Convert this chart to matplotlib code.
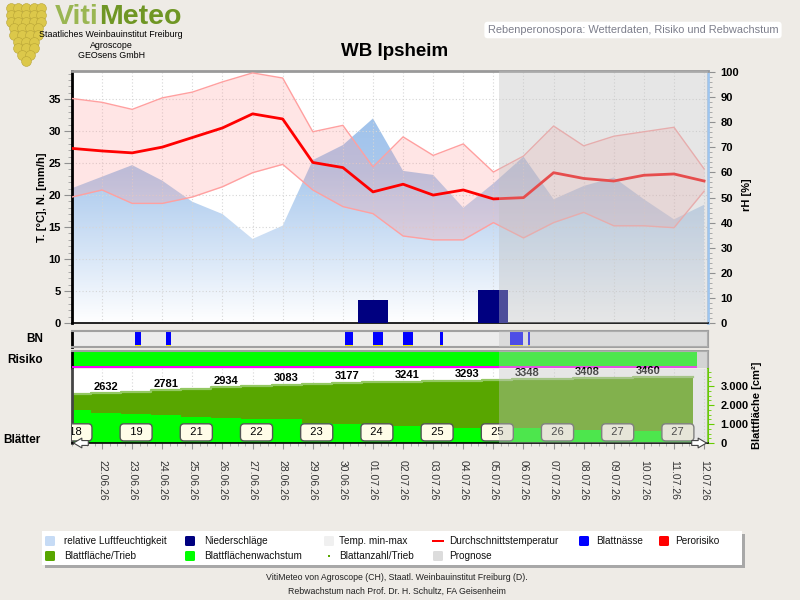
import matplotlib
matplotlib.use('Agg')
import matplotlib.pyplot as plt
import numpy as np
from matplotlib.colors import LinearSegmentedColormap
from matplotlib.patches import Rectangle, FancyBboxPatch
from matplotlib.ticker import MultipleLocator

plt.rcParams['font.family'] = ['Liberation Sans', 'DejaVu Sans']

# ---------------- data ----------------
dates = ['21.06.26', '22.06.26', '23.06.26', '24.06.26', '25.06.26', '26.06.26', '27.06.26',
         '28.06.26', '29.06.26', '30.06.26', '01.07.26', '02.07.26', '03.07.26', '04.07.26',
         '05.07.26', '06.07.26', '07.07.26', '08.07.26', '09.07.26', '10.07.26', '11.07.26',
         '12.07.26']
t_mean = [27.3, 26.9, 26.6, 27.5, 29.0, 30.5, 32.7, 31.9, 25.1, 24.3, 20.5, 21.7, 20.0, 20.8,
          19.4, 19.6, 23.5, 22.6, 22.2, 23.1, 23.3, 22.2]
t_max = [35.1, 34.5, 33.4, 35.2, 36.1, 37.7, 39.1, 38.3, 29.9, 30.9, 24.4, 29.1, 26.2, 28.0,
         23.6, 26.1, 30.8, 27.7, 29.2, 29.9, 30.6, 24.1]
t_min = [19.7, 20.8, 18.7, 18.7, 19.7, 21.3, 23.5, 24.8, 20.8, 18.2, 17.1, 13.6, 13.0, 13.0,
         15.7, 13.3, 15.7, 17.3, 15.2, 15.2, 14.9, 20.6]
rh = [53.7, 58.3, 62.9, 56.7, 48.3, 43.4, 33.5, 38.8, 64.9, 70.9, 81.5, 60.6, 59.0, 45.9,
      55.6, 66.3, 49.3, 54.6, 58.0, 49.3, 41.3, 47.1]
precip = [0, 0, 0, 0, 0, 0, 0, 0, 0, 0, 3.6, 0, 0, 0, 5.2, 0, 0, 0, 0, 0, 0, 0]

# leaf wetness periods (start in day index, length in days)
bn_start = [2.09, 3.12, 9.07, 9.99, 11.01, 12.23, 14.55, 15.16]
bn_len = [0.20, 0.17, 0.28, 0.35, 0.31, 0.10, 0.42, 0.05]

risk = [0] * 21  # 0 = low risk (green)
leaf_area = [2560, 2632, 2700, 2781, 2860, 2934, 3010, 3083, 3130, 3177, 3210, 3241, 3268,
             3293, 3320, 3348, 3378, 3408, 3434, 3460, 3485]
leaf_growth = [1737, 1596, 1509, 1474, 1384, 1332, 1263, 1245, 1035, 985, 947, 911, 842, 805,
               790, 772, 720, 684, 670, 650, 630]
leaf_count = [18, 19, 21, 22, 23, 24, 25, 25, 26, 27, 27]  # every second day
prog_start = 14.19

# ---------------- layout helpers ----------------
W, H = 800, 600
BG = '#eeebe6'
XMAX = 21.13
STEP_OFF = 0.13


def box(x0, y0, x1, y1):
    return [x0 / W, 1 - y1 / H, (x1 - x0) / W, (y1 - y0) / H]


def fx(x):
    return x / W


def fy(y):
    return 1 - y / H


fig = plt.figure(figsize=(8, 6), dpi=100, facecolor=BG)

x = np.arange(len(t_mean))

# ---------------- main panel ----------------
ax_rh = fig.add_axes(box(72, 71, 708, 323))
ax = fig.add_axes(box(72, 71, 708, 323), sharex=ax_rh)
ax.patch.set_visible(False)
ax_rh.set_facecolor('white')

poly = ax_rh.fill_between(x, 0, rh, facecolor='none', edgecolor='none')
grad = np.linspace(0, 1, 256).reshape(-1, 1)
cmap = LinearSegmentedColormap.from_list(
    'rh', [(0, '#ffffff'), (0.3, '#d3e3f6'), (0.6, '#aac9ed'), (1, '#98bdea')])
im = ax_rh.imshow(grad, extent=[0, XMAX, 0, 100.4], origin='lower', aspect='auto',
                  cmap=cmap, zorder=1)
im.set_clip_path(poly.get_paths()[0], ax_rh.transData)
ax_rh.set_ylim(0, 100.4)
ax_rh.yaxis.tick_right()
ax_rh.set_yticks(range(0, 101, 10), labels=[str(v) for v in range(0, 101, 10)],
                 fontweight='bold', fontsize=8)
ax_rh.yaxis.set_minor_locator(MultipleLocator(2))
ax_rh.tick_params(axis='y', which='major', length=5, color='#909090', pad=4)
ax_rh.tick_params(axis='y', which='minor', length=3, color='#a0a0a0')
ax_rh.tick_params(axis='x', which='both', bottom=False, labelbottom=False)
for s in ['left', 'top', 'bottom']:
    ax_rh.spines[s].set_visible(False)
ax_rh.spines['right'].set_color('#9ec5ef')
ax_rh.spines['right'].set_linewidth(2)

ax.fill_between(x, t_min, t_max, color='#ff9999', alpha=0.25, lw=0, zorder=2)
ax.plot(x, t_max, color='#ffa0a0', lw=1, zorder=3)
ax.plot(x, t_min, color='#ffa0a0', lw=1, zorder=3)
ax.bar(x, precip, width=1, color='#000080', zorder=4)
ax.plot(x, t_mean, color='#ff0000', lw=2, zorder=5)
ax.set_ylim(0, 39.4)
ax.set_yticks(range(0, 36, 5), labels=[str(v) for v in range(0, 36, 5)],
              fontweight='bold', fontsize=8)
ax.yaxis.set_minor_locator(MultipleLocator(1))
ax.tick_params(axis='y', which='major', length=6, color='#909090', pad=2)
ax.tick_params(axis='y', which='minor', length=3, color='#a0a0a0')
ax.tick_params(axis='x', which='both', bottom=False, labelbottom=False)
ax.set_axisbelow(True)
ax.grid(True, which='major', color='#d6d6d6', ls=(0, (1, 2)), lw=0.8)
ax.spines['right'].set_visible(False)
ax.spines['left'].set_color('black')
ax.spines['left'].set_linewidth(2)
ax.spines['top'].set_color('#9a9a9a')
ax.spines['top'].set_linewidth(2)
ax.spines['bottom'].set_color('black')
ax.spines['bottom'].set_linewidth(1.2)

# ---------------- BN panel ----------------
ax_bn = fig.add_axes(box(72, 331, 708, 347), sharex=ax_rh)
ax_bn.set_facecolor('#ececec')
ax_bn.set_ylim(0, 1)
ax_bn.bar(bn_start, 0.83, width=bn_len, bottom=0.12, align='edge', color='#0000ff', lw=0)
ax_bn.bar(bn_start, 0.08, width=bn_len, bottom=0.04, align='edge', color='#ffee00', lw=0)
ax_bn.set_yticks([])
ax_bn.tick_params(axis='x', which='both', bottom=False, labelbottom=False)
for s in ['top', 'right', 'bottom']:
    ax_bn.spines[s].set_color('#a0a0a0')
    ax_bn.spines[s].set_linewidth(1.5)
ax_bn.spines['left'].set_color('black')
ax_bn.spines['left'].set_linewidth(2)

# ---------------- Risk panel ----------------
ax_risk = fig.add_axes(box(72, 351, 708, 368), sharex=ax_rh)
ax_risk.set_facecolor('#e0e0e0')
ax_risk.set_ylim(0, 1)
risk_colors = {0: '#00ff00', 1: '#ffff00', 2: '#ff0000'}
rdays = np.arange(len(risk))
ax_risk.bar(rdays - 0.23, 1, width=1, align='edge', color=[risk_colors[r] for r in risk], lw=0)
ax_risk.hlines(0.03, 0, rdays[-1] + 0.77, color='#ff00ff', lw=1.4, zorder=6)
ax_risk.set_yticks([])
ax_risk.tick_params(axis='x', which='both', bottom=False, labelbottom=False)
for s in ['top', 'right']:
    ax_risk.spines[s].set_color('#a0a0a0')
    ax_risk.spines[s].set_linewidth(1.5)
ax_risk.spines['bottom'].set_visible(False)
ax_risk.spines['left'].set_color('black')
ax_risk.spines['left'].set_linewidth(2)

# ---------------- Leaf panel ----------------
ax_leaf = fig.add_axes(box(72, 369, 708, 443), sharex=ax_rh)
ax_leaf.set_facecolor('white')
kd = np.arange(len(leaf_area)) + STEP_OFF
ax_leaf.bar(kd, leaf_area, width=1, color='#58a600', lw=0, zorder=2)
ax_leaf.step(np.append(kd - 0.5, kd[-1] + 0.5), np.append(leaf_area, leaf_area[-1]),
             where='post', color='#93c862', lw=1.6, zorder=2)
ax_leaf.bar(kd, leaf_growth, width=1, color='#00ff00', lw=0, zorder=2.5)
for k in range(1, len(leaf_area), 2):
    ax_leaf.text(kd[k], leaf_area[k] + 70, str(leaf_area[k]), ha='center', va='bottom',
                 fontsize=8, fontweight='bold', zorder=4)
for i, n in enumerate(leaf_count):
    ax_leaf.text(kd[2 * i], 560, '  %d  ' % n, ha='center', va='center', fontsize=8,
                 zorder=5, clip_on=True,
                 bbox=dict(boxstyle='round,pad=0.32,rounding_size=0.35', fc='#fffde8',
                           ec='#555555', lw=1))
ax_leaf.set_ylim(0, 3900)
ax_leaf.yaxis.tick_right()
yt = [0, 1000, 2000, 3000]
ax_leaf.set_yticks(yt, labels=[f'{v:,}'.replace(',', '.') for v in yt],
                   fontweight='bold', fontsize=8)
ax_leaf.yaxis.set_minor_locator(MultipleLocator(250))
ax_leaf.tick_params(axis='y', which='major', length=4, color='#66cc00', pad=5)
ax_leaf.tick_params(axis='y', which='minor', length=2, color='#66cc00')
ax_leaf.set_xticks(range(1, len(dates)), labels=dates[1:], rotation=270, fontsize=7.5,
                   color='#333333')
ax_leaf.xaxis.set_minor_locator(MultipleLocator(0.25))
ax_leaf.tick_params(axis='x', which='major', length=4, color='#909090', pad=8)
ax_leaf.tick_params(axis='x', which='minor', length=2.5, color='#a0a0a0')
ax_leaf.grid(True, axis='x', color='#d6d6d6', ls=(0, (1, 2)), lw=0.8, zorder=1)
ax_leaf.spines['top'].set_visible(False)
ax_leaf.spines['left'].set_color('#444444')
ax_leaf.spines['left'].set_linewidth(2)
ax_leaf.spines['right'].set_color('#66cc00')
ax_leaf.spines['right'].set_linewidth(1.5)
ax_leaf.spines['bottom'].set_color('black')
ax_leaf.spines['bottom'].set_linewidth(1.2)
arrow = dict(arrowstyle='simple,head_width=0.7,head_length=0.6,tail_width=0.35',
             fc='white', ec='#444444', lw=0.8)
ax_leaf.annotate('', xy=(-0.002, 0.0), xytext=(0.03, 0.0), xycoords='axes fraction',
                 arrowprops=arrow, annotation_clip=False, zorder=30)
ax_leaf.annotate('', xy=(1.002, 0.0), xytext=(0.97, 0.0), xycoords='axes fraction',
                 arrowprops=arrow, annotation_clip=False, zorder=30)

# prognosis overlay
for a in [ax, ax_bn, ax_risk, ax_leaf]:
    a.axvspan(prog_start, XMAX, facecolor='#c2c2c2', alpha=0.4, lw=0, zorder=20)

ax_rh.set_xlim(0, XMAX)

# ---------------- axis labels ----------------
fig.text(fx(42), fy(197), 'T. [°C], N. [mm/h]', rotation=90, ha='center', va='center',
         fontsize=8, fontweight='bold')
fig.text(fx(747), fy(195), 'rH [%]', rotation=90, ha='center', va='center',
         fontsize=8, fontweight='bold')
fig.text(fx(757), fy(405), 'Blattfläche [cm²]', rotation=90, ha='center', va='center',
         fontsize=8, fontweight='bold')
fig.text(fx(43), fy(339), 'BN', ha='right', va='center', fontsize=8.5, fontweight='bold')
fig.text(fx(43), fy(360), 'Risiko', ha='right', va='center', fontsize=8.5, fontweight='bold')
fig.text(fx(3), fy(440), 'Blätter', ha='left', va='center', fontsize=8.5, fontweight='bold')

# ---------------- header ----------------
fig.text(fx(395), fy(52), 'WB Ipsheim', ha='center', va='center', fontsize=13.5,
         fontweight='bold')
fig.text(fx(633), fy(30), 'Rebenperonospora: Wetterdaten, Risiko und Rebwachstum',
         ha='center', va='center', fontsize=7.9, color='#7d7f8c',
         bbox=dict(boxstyle='round,pad=0.3,rounding_size=0.3', fc='white', ec='none'))

# logo
ax_logo = fig.add_axes(box(4, 2, 48, 66))
ax_logo.axis('off')
ax_logo.set_xlim(0, 10)
ax_logo.set_ylim(0, 14)
row_counts = [5, 5, 5, 4, 4, 3, 3, 2, 1]
for r, n in enumerate(row_counts):
    xs = 5 + (np.arange(n) - (n - 1) / 2) * 1.75
    ax_logo.scatter(xs, np.full(n, 12.6 - r * 1.45), s=50, c='#dcc84a',
                    edgecolors='#b8a436', linewidths=0.4)
t1 = fig.text(fx(55), fy(24), 'Viti', ha='left', va='baseline', fontsize=20.5,
              fontweight='bold', color='#9ab652')
fig.canvas.draw()
bb = t1.get_window_extent()
fig.text(bb.x1 / W, fy(24), 'Meteo', ha='left', va='baseline', fontsize=20.5,
         fontweight='bold', color='#6f9624')
for yy, s in [(34.5, 'Staatliches Weinbauinstitut Freiburg'), (45, 'Agroscope'),
              (55.5, 'GEOsens GmbH')]:
    fig.text(fx(111), fy(yy), s, ha='center', va='center', fontsize=6.4)

# ---------------- legend ----------------
fig.add_artist(Rectangle((fx(45), fy(568)), 700 / W, 34 / H, transform=fig.transFigure,
                         fc='#a8a8a8', ec='none'))
fig.add_artist(Rectangle((fx(42), fy(565)), 700 / W, 34 / H, transform=fig.transFigure,
                         fc='white', ec='none'))
legend_items = [
    ('relative Luftfeuchtigkeit', 'sq', '#c6dbf5'),
    ('Niederschläge', 'sq', '#000080'),
    ('Temp. min-max', 'sq', '#f0f0f0'),
    ('Durchschnittstemperatur', 'line', '#ff0000'),
    ('Blattnässe', 'sq', '#0000ff'),
    ('Perorisiko', 'sq', '#ff0000'),
    ('Blattfläche/Trieb', 'sq', '#58a600'),
    ('Blattflächenwachstum', 'sq', '#00ff00'),
    ('Blattanzahl/Trieb', 'dot', '#58a600'),
    ('Prognose', 'sq', '#dcdcdc'),
]
mk_x = [50, 190, 329, 438, 584, 664]
tx_x = [64, 204, 339, 449, 596, 675]
rows_y = [541, 556]
for i, (lab, kind, col) in enumerate(legend_items):
    r, c = (0, i) if i < 6 else (1, i - 6)
    cx, cy = mk_x[c], rows_y[r]
    if kind == 'sq':
        fig.add_artist(FancyBboxPatch((fx(cx - 5), fy(cy + 5)), 10 / W, 10 / H,
                                      boxstyle='round,pad=0,rounding_size=0.002',
                                      transform=fig.transFigure, fc=col, ec='none'))
    elif kind == 'line':
        fig.add_artist(Rectangle((fx(cx - 6), fy(cy + 1)), 12 / W, 2.5 / H,
                                 transform=fig.transFigure, fc=col, ec='none'))
    else:
        fig.add_artist(Rectangle((fx(cx - 1), fy(cy + 1)), 2 / W, 2 / H,
                                 transform=fig.transFigure, fc=col, ec='none'))
    fig.text(fx(tx_x[c]), fy(cy), lab, ha='left', va='center', fontsize=7.2, color='#111111')

# ---------------- footer ----------------
fig.text(fx(397), fy(578), 'VitiMeteo von Agroscope (CH), Staatl. Weinbauinstitut Freiburg (D).',
         ha='center', va='center', fontsize=6.3, color='#222222')
fig.text(fx(397), fy(591), 'Rebwachstum nach Prof. Dr. H. Schultz, FA Geisenheim',
         ha='center', va='center', fontsize=6.3, color='#222222')

fig.savefig('out.png', dpi=100, facecolor=BG)
